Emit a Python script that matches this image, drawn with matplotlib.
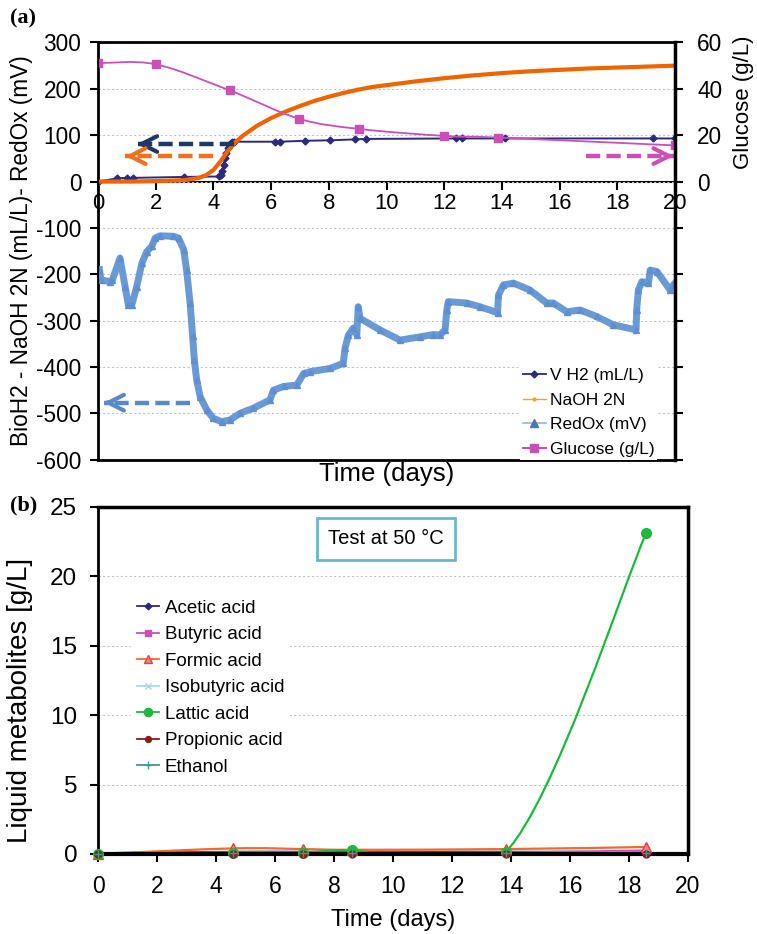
import numpy as np
import matplotlib
matplotlib.use('Agg')
import matplotlib.pyplot as plt
from matplotlib.path import Path
from matplotlib.patches import PathPatch
from matplotlib.lines import Line2D

plt.rcParams['font.family'] = ['Liberation Sans', 'DejaVu Sans']
plt.rcParams['axes.unicode_minus'] = False

# ---- panel (a) data ----
vh2_t = [0, 0.66, 1.0, 1.22, 2.98, 4.2, 4.25, 4.3, 4.35, 4.4, 4.45, 4.5, 4.55, 4.6, 4.65, 4.7,
         6.13, 6.3, 7.17, 8.04, 8.9, 9.28, 12.4, 12.6, 14.1, 19.24, 20]
vh2_v = [0, 7, 8, 8, 10, 11, 14, 22, 36, 50, 62, 72, 79, 83, 85, 86,
         86, 86, 88, 89, 91, 92, 93, 93, 93, 93, 93]

naoh_t = [0, 1, 2, 3, 3.5, 3.75, 4.0, 4.25, 4.5, 4.75, 5.0, 5.5, 6.0, 6.5, 7.0, 7.5, 8.0,
          8.5, 9.0, 9.5, 10, 11, 12, 13, 14, 15, 16, 17, 18, 19, 20]
naoh_v = [0, 0, 1, 3, 8, 14, 25, 44, 66, 84, 98, 120, 137, 151, 163, 174, 183,
          191, 198, 204, 208, 216, 223, 229, 234, 238, 241, 244, 246, 248, 250]

redox_t = [0.05, 0.1, 0.42, 0.5, 0.76, 0.94, 1.05, 1.17, 1.34, 1.52, 1.69, 1.86, 1.98, 2.15,
           2.61, 2.79, 2.97, 3.07, 3.19, 3.28, 3.34, 3.42, 3.54, 3.77, 4.0, 4.29, 4.58, 4.92,
           5.38, 5.96, 6.08, 6.43, 6.89, 7.13, 7.36, 8.05, 8.5, 8.56, 8.68, 8.85, 8.97, 9.02,
           9.08, 9.77, 10.47, 11.16, 11.62, 11.85, 12.03, 12.09, 12.14, 12.78, 13.24, 13.85,
           13.88, 14.05, 14.4, 14.97, 15.55, 15.78, 16.25, 16.71, 17.28, 17.86, 18.65, 18.67,
           18.73, 18.85, 19.08, 19.14, 19.37, 19.83, 19.94, 20.0]
redox_v = [-190, -212, -216, -212, -165, -227, -266, -266, -227, -176, -151, -140, -122, -117,
           -118, -122, -147, -191, -262, -334, -385, -428, -464, -493, -511, -518, -514, -500,
           -489, -471, -450, -442, -439, -414, -410, -403, -392, -360, -331, -316, -331, -270,
           -295, -320, -342, -335, -330, -331, -320, -277, -259, -262, -270, -283,
           -245, -223, -219, -234, -262, -262, -281, -277, -291, -309, -320, -277,
           -234, -216, -219, -191, -194, -234, -223, -219]

glu_t = [0, 2, 4.57, 6.97, 9.05, 12.0, 13.85, 20]
glu_v = [51.1, 50.6, 39.3, 27.1, 22.7, 19.7, 19.0, 15.6]

# ---- panel (b) data ----
met_t = [0, 4.58, 6.95, 8.6, 13.83, 18.58]
metabolites = [
    ('Acetic acid',     [0.05, 0.15, 0.15, 0.15, 0.15, 0.15]),
    ('Butyric acid',    [0.0, 0.1, 0.1, 0.1, 0.1, 0.25]),
    ('Formic acid',     [0.0, 0.4, 0.35, 0.3, 0.35, 0.5]),
    ('Isobutyric acid', [0.0, 0.05, 0.05, 0.05, 0.05, 0.1]),
    ('Lattic acid',     [0.0, 0.1, 0.1, 0.28, 0.15, 23.1]),
    ('Propionic acid',  [0.0, 0.0, 0.0, 0.0, 0.0, 0.0]),
    ('Ethanol',         [0.0, 0.05, 0.05, 0.05, 0.05, 0.05]),
]
met_style = {
    'Acetic acid':     dict(color='#2b2a7e', marker='D', ms=4, mfc='#2b2a7e', mec='#2b2a7e'),
    'Butyric acid':    dict(color='#cc4fb5', marker='s', ms=5, mfc='#cc4fb5', mec='#cc4fb5'),
    'Formic acid':     dict(color='#f06a2a', marker='^', ms=7, mfc='#f48080', mec='#e84040'),
    'Isobutyric acid': dict(color='#a6dbe6', marker='x', ms=5, mfc='#a6dbe6', mec='#a6dbe6'),
    'Lattic acid':     dict(color='#1db83c', marker='o', ms=7, mfc='#1db83c', mec='#1db83c'),
    'Propionic acid':  dict(color='#8a1c1c', marker='o', ms=5, mfc='#8a1c1c', mec='#8a1c1c'),
    'Ethanol':         dict(color='#3a9a98', marker='+', ms=6, mfc='#3a9a98', mec='#3a9a98'),
}


def smooth_path(x, y):
    # excel style smoothed line, catmull-rom pieces as cubic bezier
    pts = np.column_stack([x, y]).astype(float)
    n = len(pts)
    verts = [pts[0]]
    codes = [Path.MOVETO]
    for i in range(n - 1):
        p0 = pts[i - 1] if i > 0 else pts[i]
        p1 = pts[i]
        p2 = pts[i + 1]
        p3 = pts[i + 2] if i + 2 < n else pts[i + 1]
        verts += [p1 + (p2 - p0) / 6, p2 - (p3 - p1) / 6, p2]
        codes += [Path.CURVE4] * 3
    return Path(verts, codes)


def dashed_arrow(axis, x_from, x_to, y, color):
    axis.plot([x_from, x_to], [y, y], color=color, lw=3.2, dashes=(3.2, 1.4),
              solid_capstyle='butt', dash_capstyle='butt', zorder=6, clip_on=False)
    step = 0.25 if x_to > x_from else -0.25
    axis.annotate('', xy=(x_to + step * 0.4, y), xytext=(x_to - step, y),
                  arrowprops=dict(arrowstyle='->', color=color, lw=3, mutation_scale=28),
                  zorder=6, annotation_clip=False)


fig = plt.figure(figsize=(7.57, 9.34), dpi=100)

# ================= panel (a) =================
ax = fig.add_axes([0.1295, 0.5078, 0.7622, 0.4467])
ax2 = ax.twinx()
ax.set_xlim(0, 20)
ax.set_ylim(-600, 300)
ax2.set_ylim(-120, 60)

ax.set_yticks(range(-600, 301, 100))
ax.grid(axis='y', color='#c4c4c4', linestyle=(0, (2, 2)), lw=0.8)
ax.set_axisbelow(True)
ax.tick_params(axis='x', bottom=False, labelbottom=False)
ax.tick_params(axis='y', direction='out', length=6, width=1.5, labelsize=16.3, pad=6)
for s in ax.spines.values():
    s.set_linewidth(2)
ax2.spines['right'].set_linewidth(2.5)

# x axis crossing at zero
y0, y1 = ax.get_ylim()
sec = ax.secondary_xaxis((0 - y0) / (y1 - y0))
sec.xaxis.set_ticks_position('bottom')
sec.set_xticks(range(0, 21, 2))
sec.tick_params(direction='out', length=6, width=1.5, labelsize=15.8, pad=2)
sec.spines['bottom'].set_linewidth(1.5)
sec.spines['top'].set_linewidth(1.5)

ax.plot(redox_t, redox_v, color='#6a9ad4', lw=5, marker='^', ms=4,
        mfc='#5f8fd0', mec='#5f8fd0', zorder=3)
ax.plot(naoh_t, naoh_v, color='#f06400', lw=3, zorder=5)
ax.plot(vh2_t, vh2_v, color='#2b2a7e', lw=1.4, marker='D', ms=3.5, zorder=4)

ax2.add_patch(PathPatch(smooth_path(glu_t, glu_v), fill=False, edgecolor='#cc4fb5', lw=1.3))
ax2.plot(glu_t, glu_v, linestyle='none', marker='s', ms=6, color='#cc4fb5')
ax2.set_yticks(range(-120, 61, 20))
ax2.set_yticklabels([str(v) if v >= 0 else '' for v in range(-120, 61, 20)])
ax2.tick_params(axis='y', direction='out', length=6, width=1.5, labelsize=16.3, pad=10)

dashed_arrow(ax, 4.7, 1.35, 81, '#1f3864')
dashed_arrow(ax, 4.0, 0.95, 55, '#f07020')
dashed_arrow(ax, 16.9, 19.95, 55, '#cc4fb5')
dashed_arrow(ax, 3.2, 0.2, -477, '#5a88c8')

ax.set_xlabel('Time (days)', fontsize=18.5, labelpad=2)
ax.set_ylabel('BioH2 - NaOH 2N (mL/L)- RedOx (mV)', fontsize=16.3)
ax.yaxis.set_label_coords(-0.112, 0.5)
ax2.set_ylabel('Glucose (g/L)', fontsize=16, rotation=90)
ax2.yaxis.set_label_coords(1.10, 0.857)

handles_a = [
    Line2D([], [], color='#2b2a7e', marker='D', ms=3.5, lw=1.3),
    Line2D([], [], color='#f7a030', marker='.', ms=4, lw=1.0),
    Line2D([], [], color='#8fb4e0', marker='^', mfc='#4a78b8', mec='#4a78b8', ms=6, lw=1.2),
    Line2D([], [], color='#cc4fb5', marker='s', ms=6, lw=1.5),
]
leg = ax2.legend(handles_a, ['V H2 (mL/L)', 'NaOH 2N', 'RedOx (mV)', 'Glucose (g/L)'],
                 loc='lower right', bbox_to_anchor=(0.969, 0.0), borderaxespad=0,
                 fontsize=12.5, handlelength=1.3, handletextpad=0.25, labelspacing=0.55,
                 borderpad=0.15, frameon=True, fancybox=False)
leg.get_frame().set_edgecolor('none')
leg.get_frame().set_alpha(1)

fig.text(10 / 757, 1 - 18 / 934, '(a)', fontsize=16, fontweight='bold',
         family='Liberation Serif', va='center')

# ================= panel (b) =================
bx = fig.add_axes([0.1295, 0.0857, 0.7794, 0.3718])
bx.set_xlim(0, 20)
bx.set_ylim(0, 25)
bx.set_xticks(range(0, 21, 2))
bx.set_yticks(range(0, 26, 5))
bx.grid(axis='y', color='#c4c4c4', linestyle=(0, (2, 2)), lw=0.8)
bx.set_axisbelow(True)
bx.tick_params(direction='out', length=6, width=1.5)
bx.tick_params(axis='x', labelsize=16.5, pad=9)
bx.tick_params(axis='y', labelsize=17.5, pad=9)
for s in bx.spines.values():
    s.set_linewidth(2)
bx.spines['bottom'].set_linewidth(3)
bx.spines['top'].set_linewidth(2.5)
bx.spines['right'].set_linewidth(2.5)

handles_b = []
for name, vals in metabolites:
    st = met_style[name]
    bx.add_patch(PathPatch(smooth_path(met_t, vals), fill=False, edgecolor=st['color'],
                           lw=1.6))
    bx.plot(met_t, vals, linestyle='none', marker=st['marker'], ms=st['ms'],
            mfc=st['mfc'], mec=st['mec'], clip_on=False, zorder=4)
    handles_b.append(Line2D([], [], color=st['color'], lw=1.3, marker=st['marker'],
                            ms=st['ms'] * 0.85, mfc=st['mfc'], mec=st['mec']))

legb = bx.legend(handles_b, [m[0] for m in metabolites], loc='upper left',
                 bbox_to_anchor=(0.04, 0.775), fontsize=13.5, handlelength=1.2,
                 handletextpad=0.3, labelspacing=0.5, borderpad=0.3,
                 frameon=True, fancybox=False)
legb.get_frame().set_edgecolor('none')
legb.get_frame().set_alpha(1)

bx.text(0.488, 0.907, 'Test at 50 \u00b0C', transform=bx.transAxes, ha='center', va='center',
        fontsize=14.5, bbox=dict(boxstyle='square,pad=0.55', fc='white', ec='#6bb5cf', lw=2))

bx.set_xlabel('Time (days)', fontsize=17, labelpad=8)
bx.set_ylabel('Liquid metabolites [g/L]', fontsize=20)
bx.yaxis.set_label_coords(-0.11, 0.443)

fig.text(10 / 757, 1 - 505 / 934, '(b)', fontsize=16, fontweight='bold',
         family='Liberation Serif', va='center')

fig.savefig('out.png', dpi=100)
